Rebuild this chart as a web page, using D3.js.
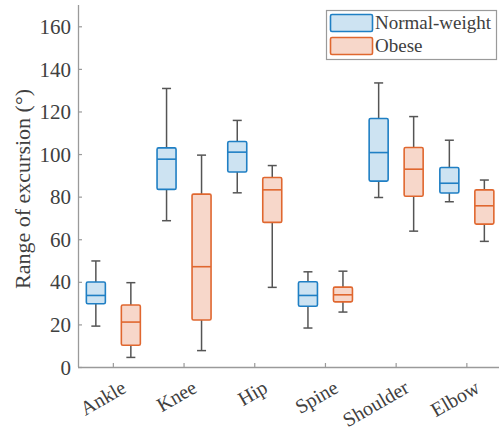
<!DOCTYPE html>
<html>
<head>
<meta charset="utf-8">
<script src="https://cdn.jsdelivr.net/npm/d3@7"></script>
<style>
  body { margin: 0; background: #fff; }
  svg text { font-family: 'Liberation Serif', 'Times New Roman', serif; fill: #404040; }
</style>
</head>
<body>
<svg id="chart" width="499" height="431"></svg>
<script>
const categories = ['Ankle', 'Knee', 'Hip', 'Spine', 'Shoulder', 'Elbow'];
const groups = ['Normal-weight', 'Obese'];
const yTicks = [0, 20, 40, 60, 80, 100, 120, 140, 160];

// [min, q1, median, q3, max] per joint
const normalStats = [
  [19.2, 29.7, 33.6, 39.9, 49.8],
  [68.7, 83.4, 97.6, 102.9, 130.8],
  [81.8, 91.6, 100.9, 105.9, 115.8],
  [18.3, 28.5, 33.6, 40.0, 44.7],
  [79.6, 87.3, 100.7, 116.7, 133.4],
  [77.6, 81.7, 86.3, 93.7, 106.5],
];
const obeseStats = [
  [4.5, 10.2, 21.1, 29.1, 39.6],
  [7.7, 22.1, 47.1, 81.2, 99.5],
  [37.4, 67.9, 83.2, 89.0, 94.6],
  [25.8, 30.6, 33.9, 37.5, 45.0],
  [63.8, 80.2, 92.9, 103.1, 117.6],
  [59.0, 67.1, 75.7, 83.2, 87.8],
];

const strokeColors = { 'Normal-weight': '#1f7fc4', 'Obese': '#e0672f' };
const fillColors = { 'Normal-weight': '#cde3f2', 'Obese': '#f7d7ca' };
const axisColor = '#9a9a9a';
const whiskerColor = '#555';
const fontFamily = "'Liberation Serif', 'Times New Roman', serif";

const margin = { left: 78, top: 5, bottom: 64 };
const width = 499, height = 431;

const svg = d3.select('#chart');

const x = d3.scaleBand()
  .domain(categories)
  .range([margin.left, margin.left + 6 * 70.7]);

const xg = d3.scalePoint()
  .domain(groups)
  .range([-17.5, 17.5]);

const y = d3.scaleLinear()
  .domain([0, 170])
  .range([height - margin.bottom, margin.top]);

const boxW = 19;
const capW = 9;

// build rows for drawing
const rows = [];
categories.forEach((c, i) => {
  rows.push({ cat: c, group: groups[0], s: normalStats[i] });
  rows.push({ cat: c, group: groups[1], s: obeseStats[i] });
});

const cx = (d) => x(d.cat) + x.bandwidth() / 2 + xg(d.group);

// axes (MATLAB style: ticks inside)
const xAxis = svg.append('g')
  .attr('transform', `translate(0,${y(0)})`)
  .call(d3.axisBottom(x).tickSize(-4).tickFormat(''));
xAxis.select('.domain').attr('stroke', axisColor).attr('stroke-width', 1.3)
  .attr('d', `M${margin.left},0.5H${width}`);
xAxis.selectAll('.tick line').attr('stroke', axisColor).attr('stroke-width', 1.2);

const yAxis = svg.append('g')
  .attr('transform', `translate(${margin.left},0)`)
  .call(d3.axisLeft(y).tickValues(yTicks).tickSize(-4).tickPadding(7));
yAxis.attr('font-family', fontFamily).attr('font-size', 21);
yAxis.select('.domain').attr('stroke', axisColor).attr('stroke-width', 1.3)
  .attr('d', `M0.5,${y(170)}V${y(0)}`);
yAxis.selectAll('.tick line').attr('stroke', axisColor).attr('stroke-width', 1.2);
yAxis.selectAll('.tick text')
  .attr('fill', '#404040')
  .attr('dy', '0.34em');

// x tick labels, rotated
svg.append('g')
  .attr('font-family', fontFamily)
  .attr('font-size', 20)
  .selectAll('text')
  .data(categories)
  .join('text')
  .attr('transform', (d) => `translate(${x(d) + x.bandwidth() / 2 + 7},${y(0) + 12}) rotate(-30)`)
  .attr('text-anchor', 'end')
  .attr('dy', '0.72em')
  .text((d) => d);

// y axis title
svg.append('text')
  .attr('transform', `translate(30,189) rotate(-90)`)
  .attr('text-anchor', 'middle')
  .attr('font-family', fontFamily)
  .attr('font-size', 22)
  .text('Range of excursion (°)');

// boxes
const boxes = svg.append('g').selectAll('g')
  .data(rows)
  .join('g');

boxes.append('line')
  .attr('x1', cx).attr('x2', cx)
  .attr('y1', (d) => y(d.s[4])).attr('y2', (d) => y(d.s[3]))
  .attr('stroke', whiskerColor).attr('stroke-width', 1.5);
boxes.append('line')
  .attr('x1', cx).attr('x2', cx)
  .attr('y1', (d) => y(d.s[1])).attr('y2', (d) => y(d.s[0]))
  .attr('stroke', whiskerColor).attr('stroke-width', 1.5);
[0, 4].forEach((k) => {
  boxes.append('line')
    .attr('x1', (d) => cx(d) - capW / 2).attr('x2', (d) => cx(d) + capW / 2)
    .attr('y1', (d) => y(d.s[k])).attr('y2', (d) => y(d.s[k]))
    .attr('stroke', whiskerColor).attr('stroke-width', 1.5);
});

boxes.append('rect')
  .attr('x', (d) => cx(d) - boxW / 2)
  .attr('width', boxW)
  .attr('y', (d) => y(d.s[3]))
  .attr('height', (d) => y(d.s[1]) - y(d.s[3]))
  .attr('rx', 1.5)
  .attr('fill', (d) => fillColors[d.group])
  .attr('stroke', (d) => strokeColors[d.group])
  .attr('stroke-width', 1.6);

boxes.append('line')
  .attr('x1', (d) => cx(d) - boxW / 2).attr('x2', (d) => cx(d) + boxW / 2)
  .attr('y1', (d) => y(d.s[2])).attr('y2', (d) => y(d.s[2]))
  .attr('stroke', (d) => strokeColors[d.group])
  .attr('stroke-width', 1.6);

// legend
const legend = svg.append('g');
legend.append('rect')
  .attr('x', 326.5).attr('y', 10.5)
  .attr('width', 170).attr('height', 49)
  .attr('fill', '#fff')
  .attr('stroke', axisColor).attr('stroke-width', 1.2);

const legendItems = legend.selectAll('g')
  .data(groups)
  .join('g')
  .attr('transform', (d, i) => `translate(330,${14 + i * 23})`);
legendItems.append('rect')
  .attr('x', 0.5).attr('y', 0.5)
  .attr('width', 42).attr('height', 17)
  .attr('rx', 1.5)
  .attr('fill', (d) => fillColors[d])
  .attr('stroke', (d) => strokeColors[d])
  .attr('stroke-width', 1.6);
legendItems.append('text')
  .attr('x', 45).attr('y', 15)
  .attr('font-family', fontFamily)
  .attr('font-size', 19)
  .text((d) => d);
</script>
</body>
</html>
